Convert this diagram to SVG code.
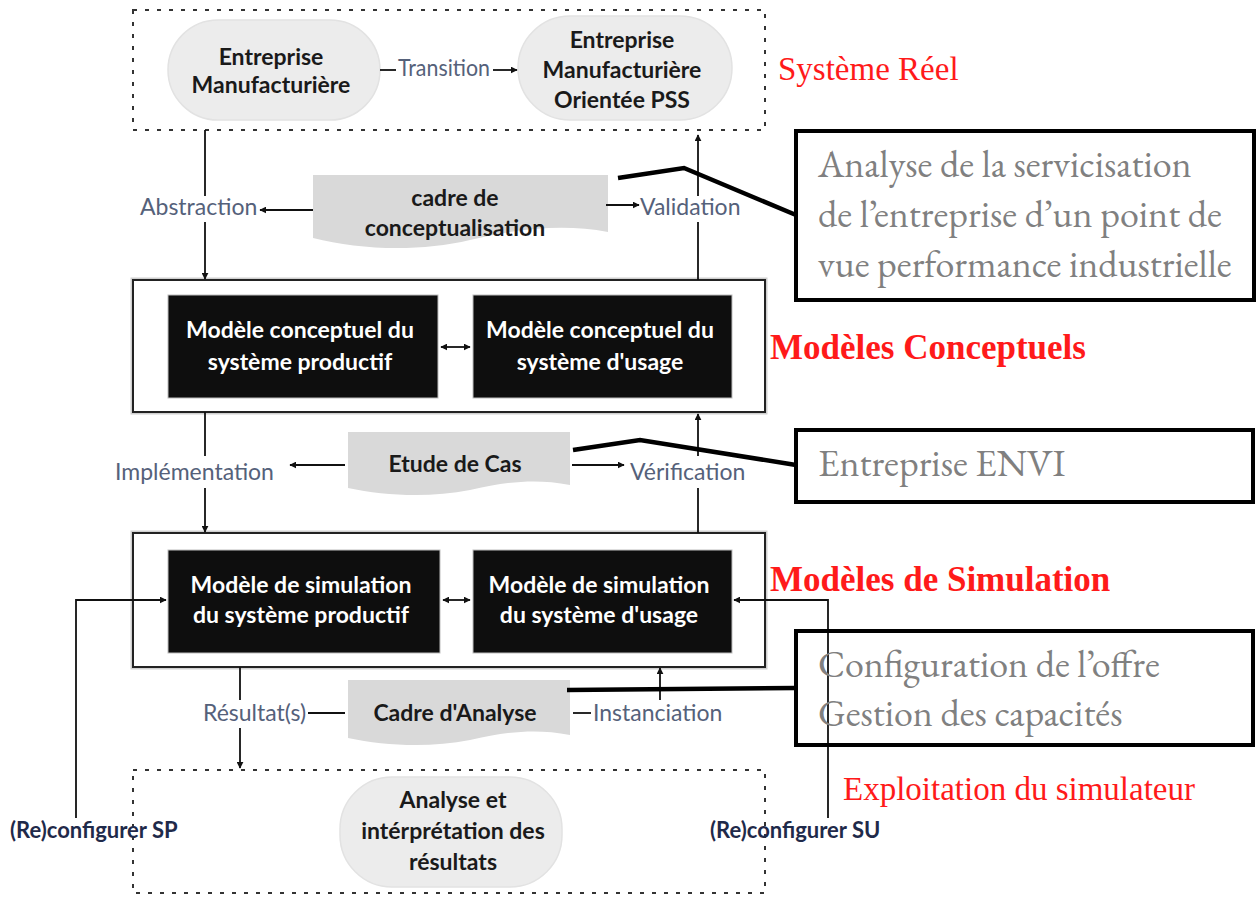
<svg xmlns="http://www.w3.org/2000/svg" width="1257" height="897" viewBox="0 0 1257 897">
<style>
.bg{fill:#ffffff}
.dash{fill:none;stroke:#333;stroke-width:2;stroke-dasharray:4 8}
.pill{fill:#ececec;stroke:#e2e2e2;stroke-width:1.5}
.ptxt{font-family:Lato,"Open Sans",sans-serif;font-weight:bold;font-size:23px;fill:#1a1a1a;text-anchor:middle}
.frame{fill:#fff;stroke:#222;stroke-width:2}
.frameShadow{fill:none;stroke:#cfcfcf;stroke-width:5}
.blk{fill:#0e0e0e;stroke:#bdbdbd;stroke-width:1}
.btxt{font-family:Lato,"Open Sans",sans-serif;font-weight:bold;font-size:23px;fill:#ffffff;text-anchor:middle}
.doc{fill:#d9d9d9}
.dtxt{font-family:Lato,"Open Sans",sans-serif;font-weight:bold;font-size:23px;fill:#1a1a1a;text-anchor:middle}
.lbl{font-family:Lato,"Open Sans",sans-serif;font-size:23px;fill:#55617a}
.rc{font-family:Lato,"Open Sans",sans-serif;font-weight:bold;font-size:22px;fill:#1f2a4a}
.conn{fill:none;stroke:#111;stroke-width:1.8}
.call{fill:none;stroke:#000;stroke-width:4.5}
.cbox{fill:none;stroke:#000;stroke-width:4}
.ctxt{font-family:"EB Garamond","Liberation Serif",serif;font-size:38px;fill:#808080}
.red{font-family:"Liberation Serif",serif;font-size:33px;fill:#ff1a1a}
.redb{font-family:"Liberation Serif",serif;font-size:35px;font-weight:bold;fill:#ff1a1a}
</style>
<defs>
<marker id="ah" viewBox="0 0 10 10" refX="9" refY="5" markerWidth="7" markerHeight="7" orient="auto-start-reverse" markerUnits="userSpaceOnUse">
<path d="M0,0 L10,5 L0,10 Z" fill="#111"/>
</marker>
</defs>
<rect class="bg" x="0" y="0" width="1257" height="897"/>

<g id="systeme-reel">
<rect class="dash" x="133" y="10" width="632" height="120"/>
<text class="red" x="778" y="80">Système Réel</text>
</g>
<g id="entreprise-manufacturiere">
<rect class="pill" x="168" y="20" width="212" height="100" rx="50"/>
<text class="ptxt" x="271" y="65">Entreprise</text>
<text class="ptxt" x="271" y="93">Manufacturière</text>
</g>
<g id="entreprise-pss">
<rect class="pill" x="518" y="16" width="214" height="104" rx="52"/>
<text class="ptxt" x="622" y="48">Entreprise</text>
<text class="ptxt" x="622" y="78">Manufacturière</text>
<text class="ptxt" x="622" y="108">Orientée PSS</text>
</g>

<g id="cadre-conceptualisation">
<path class="doc" d="M313,175 H608 V232 C565,224 520,228 470,240 C420,252 360,250 313,238 Z"/>
<text class="dtxt" x="455" y="206">cadre de</text>
<text class="dtxt" x="455" y="236">conceptualisation</text>
</g>

<g id="modeles-conceptuels">
<rect class="frameShadow" x="133" y="280" width="632" height="132"/>
<rect class="frame" x="133" y="280" width="632" height="132"/>
<text class="redb" x="770" y="359">Modèles Conceptuels</text>
</g>
<g id="mc-productif">
<rect class="blk" x="168" y="295" width="270" height="103"/>
<text class="btxt" x="300" y="338">Modèle conceptuel du</text>
<text class="btxt" x="300" y="370">système productif</text>
</g>
<g id="mc-usage">
<rect class="blk" x="473" y="295" width="259" height="103"/>
<text class="btxt" x="600" y="338">Modèle conceptuel du</text>
<text class="btxt" x="600" y="370">système d'usage</text>
</g>

<g id="etude-de-cas">
<path class="doc" d="M348,432 H570 V485 C535,478 505,482 470,490 C430,498 385,496 348,488 Z"/>
<text class="dtxt" x="455" y="472">Etude de Cas</text>
</g>

<g id="modeles-simulation">
<rect class="frameShadow" x="133" y="533" width="632" height="134"/>
<rect class="frame" x="133" y="533" width="632" height="134"/>
<text class="redb" x="770" y="591">Modèles de Simulation</text>
</g>
<g id="ms-productif">
<rect class="blk" x="168" y="550" width="272" height="103"/>
<text class="btxt" x="301" y="593">Modèle de simulation</text>
<text class="btxt" x="301" y="623">du système productif</text>
</g>
<g id="ms-usage">
<rect class="blk" x="473" y="550" width="259" height="103"/>
<text class="btxt" x="599" y="593">Modèle de simulation</text>
<text class="btxt" x="599" y="623">du système d'usage</text>
</g>

<g id="cadre-analyse">
<path class="doc" d="M348,680 H570 V735 C535,728 505,732 470,740 C430,748 385,746 348,738 Z"/>
<text class="dtxt" x="455" y="721">Cadre d'Analyse</text>
</g>

<g id="exploitation">
<rect class="dash" x="133" y="770" width="632" height="123"/>
<text class="red" x="843" y="800">Exploitation du simulateur</text>
</g>
<g id="analyse-interpretation">
<rect class="pill" x="340" y="777" width="222" height="110" rx="52"/>
<text class="ptxt" x="453" y="808">Analyse et</text>
<text class="ptxt" x="453" y="839">intérprétation des</text>
<text class="ptxt" x="453" y="870">résultats</text>
</g>

<g id="connectors">
<line class="conn" x1="380" y1="70" x2="396" y2="70"/>
<text class="lbl" x="398" y="76" textLength="92" lengthAdjust="spacingAndGlyphs">Transition</text>
<line class="conn" x1="493" y1="70" x2="517" y2="70" marker-end="url(#ah)"/>
<line class="conn" x1="205" y1="130" x2="205" y2="196"/>
<text class="lbl" x="140" y="215">Abstraction</text>
<line class="conn" x1="205" y1="222" x2="205" y2="279" marker-end="url(#ah)"/>
<line class="conn" x1="313" y1="210" x2="260" y2="210" marker-end="url(#ah)"/>
<line class="conn" x1="698" y1="280" x2="698" y2="222"/>
<text class="lbl" x="640" y="215">Validation</text>
<line class="conn" x1="698" y1="196" x2="698" y2="135" marker-end="url(#ah)"/>
<line class="conn" x1="606" y1="205" x2="639" y2="205" marker-end="url(#ah)"/>
<line class="conn" x1="441" y1="347" x2="470" y2="347" marker-start="url(#ah)" marker-end="url(#ah)"/>
<line class="conn" x1="205" y1="412" x2="205" y2="456"/>
<text class="lbl" x="115" y="480">Implémentation</text>
<line class="conn" x1="205" y1="488" x2="205" y2="532" marker-end="url(#ah)"/>
<line class="conn" x1="345" y1="465" x2="290" y2="465" marker-end="url(#ah)"/>
<line class="conn" x1="698" y1="533" x2="698" y2="488"/>
<text class="lbl" x="630" y="480">Vérification</text>
<line class="conn" x1="698" y1="456" x2="698" y2="414" marker-end="url(#ah)"/>
<line class="conn" x1="572" y1="465" x2="624" y2="465" marker-end="url(#ah)"/>
<line class="conn" x1="443" y1="600" x2="470" y2="600" marker-start="url(#ah)" marker-end="url(#ah)"/>
<line class="conn" x1="240" y1="667" x2="240" y2="700"/>
<text class="lbl" x="203" y="721">Résultat(s)</text>
<line class="conn" x1="308" y1="713" x2="345" y2="713"/>
<line class="conn" x1="240" y1="728" x2="240" y2="768" marker-end="url(#ah)"/>
<line class="conn" x1="573" y1="713" x2="591" y2="713"/>
<text class="lbl" x="593" y="721">Instanciation</text>
<line class="conn" x1="660" y1="700" x2="660" y2="668" marker-end="url(#ah)"/>
<text class="rc" x="10" y="838">(Re)configurer SP</text>
<polyline class="conn" points="76,818 76,600 166,600" marker-end="url(#ah)"/>
<text class="rc" x="710" y="838">(Re)configurer SU</text>
<polyline class="conn" points="828,818 828,600 734,600" marker-end="url(#ah)"/>
</g>

<g id="callout-servicisation">
<rect class="cbox" x="796" y="131" width="458" height="169"/>
<text class="ctxt" x="818" y="177">Analyse de la servicisation</text>
<text class="ctxt" x="818" y="227">de l’entreprise d’un point de</text>
<text class="ctxt" x="818" y="277">vue performance industrielle</text>
<polyline class="call" points="618,178 684,168 796,215"/>
</g>
<g id="callout-envi">
<rect class="cbox" x="796" y="430" width="457" height="72"/>
<text class="ctxt" x="818" y="476">Entreprise ENVI</text>
<polyline class="call" points="573,450 640,440 796,465"/>
</g>
<g id="callout-offre">
<rect class="cbox" x="796" y="631" width="457" height="114"/>
<text class="ctxt" x="818" y="677">Configuration de l’offre</text>
<text class="ctxt" x="818" y="726">Gestion des capacités</text>
<line class="call" x1="567" y1="690" x2="796" y2="688"/>
</g>
</svg>
